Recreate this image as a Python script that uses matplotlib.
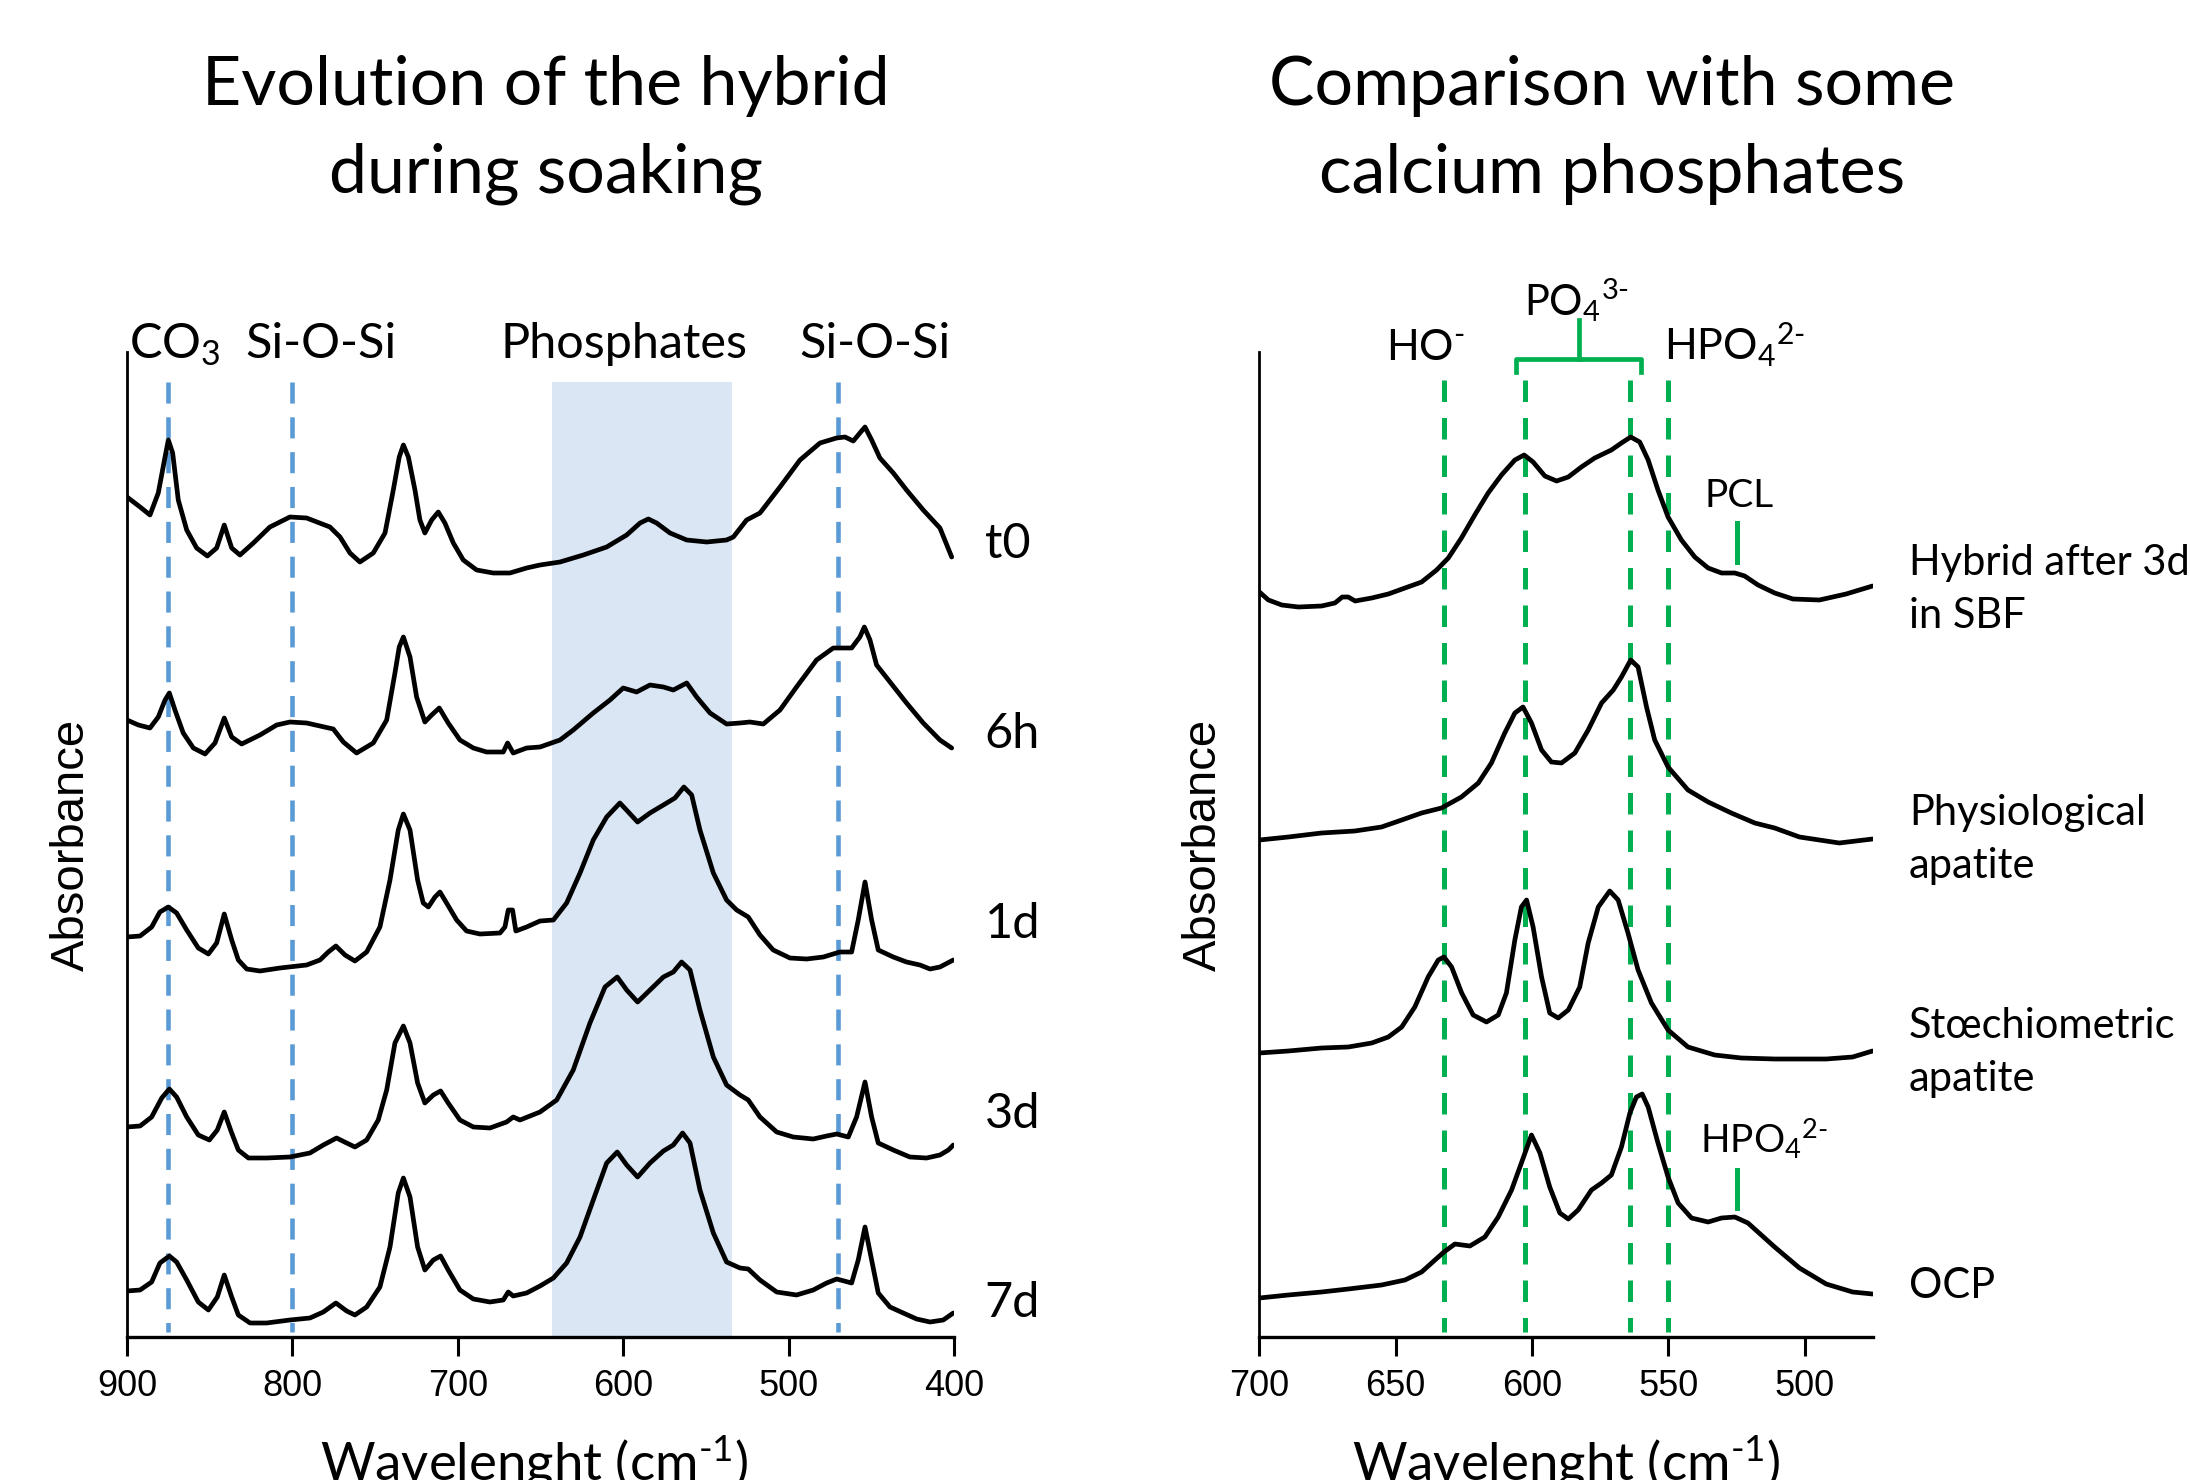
import numpy as np
import matplotlib
matplotlib.use('Agg')
from matplotlib import pyplot as plt

plt.rcParams['font.family'] = ['Lato', 'DejaVu Sans']
plt.rcParams['mathtext.fontset'] = 'custom'
plt.rcParams['mathtext.rm'] = 'Lato'
plt.rcParams['mathtext.it'] = 'Lato:italic'
plt.rcParams['mathtext.bf'] = 'Lato:bold'

# ---------------- left panel: hybrid during soaking ----------------
t0_w = [900, 892.1, 886.1, 881.1, 877.0, 875.0, 872.4, 869.0, 863.9, 857.9, 851.4, 845.8, 841.2, 836.7,
        831.7, 823.6, 813.6, 801.5, 791.4, 777.3, 771.2, 765.2, 759.2, 751.1, 744.0, 739.0, 735.4, 732.9,
        729.9, 725.9, 722.9, 719.9, 715.8, 711.8, 707.8, 702.7, 696.7, 688.6, 678.6, 668.5, 658.4, 650.3,
        638.2, 624.1, 610.0, 597.9, 589.8, 584.8, 579.8, 571.7, 561.6, 549.5, 537.5, 533.4, 525.4, 517.3,
        505.2, 493.1, 481.0, 471.0, 465.9, 460.9, 456.9, 453.8, 449.8, 444.8, 436.7, 428.7, 418.6, 408.5,
        401.4]
t0_a = [8.40, 8.30, 8.22, 8.44, 8.80, 8.97, 8.84, 8.37, 8.07, 7.89, 7.81, 7.89, 8.12, 7.89,
        7.82, 7.94, 8.10, 8.20, 8.19, 8.10, 8.00, 7.84, 7.75, 7.84, 8.04, 8.47, 8.80, 8.92,
        8.80, 8.47, 8.17, 8.04, 8.17, 8.25, 8.14, 7.94, 7.77, 7.67, 7.64, 7.64, 7.69, 7.72,
        7.75, 7.82, 7.90, 8.02, 8.14, 8.18, 8.14, 8.04, 7.97, 7.95, 7.97, 8.00, 8.17, 8.24,
        8.50, 8.77, 8.94, 8.99, 9.00, 8.96, 9.04, 9.10, 8.97, 8.79, 8.64, 8.47, 8.27, 8.09,
        7.80]

h6_w = [900, 893.1, 886.1, 881.1, 877.0, 874.4, 871.0, 866.0, 859.9, 852.8, 846.8, 841.2, 836.7, 830.7,
        819.6, 809.5, 801.5, 791.4, 775.3, 769.2, 761.2, 751.1, 743.0, 738.0, 735.4, 732.9, 728.9, 724.9,
        719.9, 715.8, 711.2, 705.8, 698.7, 690.6, 682.6, 672.5, 669.9, 666.5, 658.4, 650.3, 638.2, 630.2,
        618.1, 608.0, 600.0, 591.9, 583.8, 575.7, 569.7, 561.6, 555.6, 547.5, 537.5, 529.4, 523.4, 515.3,
        505.2, 495.2, 483.1, 473.0, 461.9, 456.9, 454.2, 450.8, 446.8, 438.7, 428.7, 418.6, 408.5, 401.4]
h6_a = [6.17, 6.12, 6.09, 6.20, 6.37, 6.44, 6.27, 6.04, 5.89, 5.83, 5.94, 6.19, 6.00, 5.93,
        6.02, 6.12, 6.15, 6.14, 6.08, 5.95, 5.84, 5.94, 6.17, 6.64, 6.90, 7.00, 6.80, 6.40,
        6.15, 6.22, 6.29, 6.14, 5.97, 5.89, 5.85, 5.85, 5.94, 5.84, 5.89, 5.90, 5.97, 6.07,
        6.24, 6.37, 6.49, 6.45, 6.52, 6.50, 6.47, 6.54, 6.40, 6.24, 6.13, 6.14, 6.15, 6.13,
        6.27, 6.50, 6.77, 6.89, 6.89, 7.00, 7.10, 6.97, 6.72, 6.55, 6.34, 6.14, 5.97, 5.89]

d1_w = [900, 892.1, 885.1, 880.1, 875.0, 870.0, 863.9, 856.9, 850.8, 845.8, 841.2, 836.7, 832.7, 827.6,
        819.6, 807.5, 791.4, 783.3, 778.3, 773.7, 768.2, 762.2, 755.1, 747.1, 741.0, 736.0, 732.9, 728.9,
        724.3, 720.9, 717.8, 713.8, 710.8, 706.8, 700.7, 694.7, 686.6, 674.5, 671.5, 669.5, 666.9, 664.9,
        658.4, 650.3, 642.2, 634.2, 626.1, 618.1, 610.0, 602.0, 596.9, 591.3, 583.8, 573.7, 568.7, 563.3,
        558.6, 553.6, 545.5, 537.5, 531.4, 524.4, 517.3, 509.3, 499.2, 489.1, 479.0, 469.0, 461.9, 457.9,
        453.8, 449.8, 445.8, 436.7, 428.7, 420.6, 414.5, 408.5, 400.4]
d1_a = [4.00, 4.01, 4.10, 4.25, 4.30, 4.24, 4.07, 3.89, 3.83, 3.94, 4.23, 3.97, 3.77, 3.68,
        3.66, 3.69, 3.72, 3.77, 3.85, 3.91, 3.82, 3.76, 3.85, 4.10, 4.57, 5.07, 5.23, 5.07,
        4.57, 4.34, 4.30, 4.40, 4.45, 4.34, 4.17, 4.06, 4.03, 4.04, 4.10, 4.27, 4.27, 4.06,
        4.10, 4.16, 4.17, 4.34, 4.64, 4.97, 5.20, 5.34, 5.25, 5.15, 5.24, 5.34, 5.39, 5.50,
        5.42, 5.07, 4.64, 4.37, 4.27, 4.20, 4.02, 3.87, 3.79, 3.78, 3.80, 3.85, 3.85, 4.17,
        4.55, 4.17, 3.87, 3.80, 3.75, 3.72, 3.68, 3.70, 3.77]

d3_w = [900, 892.1, 885.1, 879.0, 874.4, 870.0, 863.9, 856.9, 850.2, 845.4, 841.2, 836.7, 832.7, 826.6,
        815.6, 801.5, 789.4, 781.3, 773.3, 767.2, 762.2, 755.1, 748.1, 743.0, 738.0, 732.9, 728.9, 724.3,
        719.9, 714.8, 710.4, 705.8, 698.7, 690.6, 680.6, 670.5, 666.5, 662.4, 650.3, 640.2, 630.2, 620.1,
        611.0, 603.6, 597.9, 591.3, 583.8, 575.7, 569.7, 564.7, 559.6, 553.6, 545.5, 537.5, 529.4, 524.4,
        517.3, 507.2, 497.2, 485.1, 477.0, 470.9, 463.9, 458.9, 453.8, 449.8, 445.8, 436.7, 426.7, 416.6,
        408.5, 403.4, 400.4]
d3_a = [2.10, 2.11, 2.20, 2.39, 2.48, 2.40, 2.20, 2.02, 1.97, 2.07, 2.25, 2.04, 1.87, 1.79,
        1.79, 1.80, 1.84, 1.92, 1.99, 1.94, 1.90, 1.97, 2.17, 2.47, 2.94, 3.11, 2.94, 2.54,
        2.34, 2.42, 2.46, 2.34, 2.17, 2.10, 2.09, 2.15, 2.20, 2.17, 2.25, 2.37, 2.67, 3.14,
        3.50, 3.60, 3.47, 3.35, 3.47, 3.60, 3.65, 3.75, 3.67, 3.27, 2.80, 2.52, 2.42, 2.37,
        2.20, 2.05, 2.00, 1.98, 2.01, 2.03, 2.00, 2.20, 2.55, 2.20, 1.94, 1.87, 1.80, 1.79,
        1.82, 1.87, 1.92]

d7_w = [900, 892.1, 885.1, 880.1, 874.4, 870.0, 863.9, 856.9, 850.8, 845.4, 841.2, 836.7, 832.7, 825.6,
        815.6, 801.5, 789.4, 781.3, 773.7, 767.2, 762.2, 755.1, 747.1, 741.0, 736.0, 732.9, 728.9, 724.3,
        719.9, 714.8, 710.4, 705.8, 698.7, 690.6, 680.6, 672.5, 669.5, 666.5, 658.4, 650.3, 642.2, 634.2,
        626.1, 618.1, 610.0, 603.6, 597.9, 591.3, 583.8, 575.7, 569.7, 564.1, 559.6, 553.6, 545.5, 537.5,
        529.4, 524.4, 517.3, 507.2, 495.2, 485.1, 477.0, 470.9, 461.9, 457.9, 453.8, 449.8, 445.8, 438.7,
        430.7, 422.6, 414.5, 406.5, 400.4]
d7_a = [0.46, 0.47, 0.55, 0.74, 0.81, 0.75, 0.57, 0.35, 0.27, 0.40, 0.62, 0.40, 0.22, 0.14,
        0.14, 0.17, 0.19, 0.25, 0.34, 0.26, 0.22, 0.30, 0.50, 0.90, 1.44, 1.59, 1.40, 0.90,
        0.67, 0.77, 0.81, 0.67, 0.47, 0.38, 0.35, 0.37, 0.45, 0.41, 0.44, 0.51, 0.59, 0.74,
        1.00, 1.37, 1.74, 1.85, 1.72, 1.60, 1.74, 1.86, 1.92, 2.04, 1.94, 1.47, 1.04, 0.75,
        0.69, 0.68, 0.57, 0.45, 0.42, 0.47, 0.54, 0.58, 0.54, 0.77, 1.10, 0.77, 0.44, 0.30,
        0.24, 0.18, 0.15, 0.17, 0.24]

left_names = ['t0', '6h', '1d', '3d', '7d']
left_name_y = [7.79, 5.89, 3.99, 2.09, 0.20]
left_bands = [875, 800, 470]
phosphate_band = [643, 534]
left_top_labels = [r'CO$_3$', 'Si-O-Si', 'Phosphates', 'Si-O-Si']
left_top_x = [899, 782.7, 599.3, 447.8]

# ---------------- right panel: calcium phosphates ----------------
hyb_w = [700, 696.7, 691.8, 685.7, 677.2, 672.3, 669.6, 667.4, 664.9, 658.8, 652.7, 646.6, 640.5, 635.0,
         630.7, 625.9, 621.0, 616.1, 611.2, 606.3, 602.9, 599.6, 595.3, 591.0, 586.7, 581.9, 577.0, 570.9,
         567.2, 563.8, 560.5, 557.4, 553.8, 550.1, 545.2, 540.3, 535.4, 530.5, 525.6, 522.0, 517.1, 511.0,
         504.3, 494.6, 484.8, 475.1]
hyb_a = [7.45, 7.37, 7.32, 7.30, 7.31, 7.34, 7.40, 7.40, 7.36, 7.39, 7.43, 7.49, 7.55, 7.67,
         7.79, 7.99, 8.22, 8.44, 8.62, 8.77, 8.82, 8.75, 8.61, 8.56, 8.60, 8.70, 8.79, 8.87,
         8.94, 9.00, 8.95, 8.77, 8.47, 8.20, 7.97, 7.80, 7.69, 7.64, 7.64, 7.61, 7.52, 7.44,
         7.38, 7.37, 7.43, 7.51]

phy_w = [700, 689.4, 677.2, 665.0, 655.2, 647.8, 640.5, 633.2, 625.9, 619.7, 614.9, 610.0, 606.3, 603.3,
         600.2, 596.5, 592.9, 589.2, 584.3, 579.4, 574.5, 570.2, 567.2, 563.8, 561.1, 558.0, 555.0, 550.1,
         542.8, 535.4, 526.9, 518.3, 511.0, 501.9, 487.3, 475.1]
phy_a = [4.97, 5.00, 5.04, 5.06, 5.10, 5.17, 5.24, 5.29, 5.40, 5.54, 5.74, 6.04, 6.24, 6.30,
         6.14, 5.87, 5.75, 5.74, 5.84, 6.07, 6.34, 6.47, 6.60, 6.77, 6.70, 6.30, 5.97, 5.70,
         5.47, 5.35, 5.24, 5.14, 5.09, 5.00, 4.94, 4.98]

sto_w = [700, 689.4, 677.2, 667.4, 658.8, 652.7, 647.8, 643.0, 638.1, 634.4, 632.3, 629.5, 625.8, 621.6,
         616.7, 612.4, 609.4, 606.3, 603.9, 602.0, 599.6, 596.5, 593.5, 590.4, 586.7, 582.5, 579.4, 575.7,
         571.5, 568.4, 564.8, 561.1, 556.2, 550.1, 542.8, 533.0, 523.2, 511.0, 492.1, 482.4, 475.1]
sto_a = [2.84, 2.86, 2.89, 2.90, 2.94, 3.00, 3.10, 3.30, 3.60, 3.77, 3.80, 3.70, 3.44, 3.22,
         3.15, 3.22, 3.44, 3.97, 4.30, 4.37, 4.10, 3.60, 3.24, 3.19, 3.27, 3.50, 3.94, 4.30,
         4.46, 4.37, 4.04, 3.67, 3.34, 3.07, 2.90, 2.82, 2.79, 2.78, 2.78, 2.80, 2.86]

ocp_w = [700, 689.4, 677.2, 667.4, 655.2, 646.6, 640.5, 635.6, 632.3, 628.3, 622.8, 617.3, 612.4, 607.5,
         603.9, 600.2, 597.1, 593.5, 589.8, 586.7, 583.1, 578.2, 574.5, 570.9, 567.2, 564.1, 561.7, 559.6,
         557.4, 553.8, 550.1, 546.4, 541.5, 535.4, 530.5, 525.6, 520.8, 515.9, 511.0, 501.9, 492.1, 482.4,
         475.1]
ocp_a = [0.39, 0.42, 0.45, 0.48, 0.52, 0.57, 0.65, 0.77, 0.85, 0.93, 0.91, 1.00, 1.20, 1.47,
         1.74, 2.02, 1.84, 1.50, 1.24, 1.18, 1.27, 1.47, 1.54, 1.62, 1.90, 2.24, 2.40, 2.43,
         2.30, 1.94, 1.60, 1.34, 1.19, 1.15, 1.19, 1.20, 1.14, 1.02, 0.90, 0.69, 0.53, 0.45,
         0.43]

right_names = ['Hybrid after 3d\nin SBF', 'Physiological\napatite', 'Stœchiometric\napatite', 'OCP']
right_name_y = [7.09, 4.59, 2.46, 0.39]
right_bands = [632.4, 602.7, 563.9, 550]

BLUE = '#5b9bd5'
GREEN = '#00b050'
SHADE = '#dae6f3'
YTOP = 9.85
LW = 3.4

fig = plt.figure(figsize=(21.9, 14.8), dpi=100)
axL = fig.add_axes([127 / 2190, 143 / 1480, 827 / 2190, 985 / 1480])
axR = fig.add_axes([1259.4 / 2190, 143 / 1480, 613.4 / 2190, 985 / 1480])

for ax in (axL, axR):
    ax.spines['top'].set_visible(False)
    ax.spines['right'].set_visible(False)
    ax.spines['left'].set_linewidth(2.0)
    ax.spines['bottom'].set_linewidth(2.4)
    ax.set_yticks([])
    ax.set_ylim(0, YTOP)
    ax.tick_params(axis='x', direction='out', length=14, width=2.2, labelsize=26, pad=9,
                   labelfontfamily='Liberation Sans')
    ax.set_ylabel('Absorbance', fontsize=34, family='Liberation Sans', labelpad=24)

# left panel
axL.set_xlim(900, 400)
axL.set_xticks([900, 800, 700, 600, 500, 400])
axL.axvspan(phosphate_band[0], phosphate_band[1], ymin=0, ymax=9.55 / YTOP, color=SHADE, lw=0, zorder=0)
for b in left_bands:
    axL.plot([b, b], [9.55, 0.05], color=BLUE, lw=3.3, linestyle=(0, (4.6, 3.0)), zorder=1)
for w, a in [(t0_w, t0_a), (h6_w, h6_a), (d1_w, d1_a), (d3_w, d3_a), (d7_w, d7_a)]:
    axL.plot(w, a, color='black', lw=LW, solid_joinstyle='round', solid_capstyle='round', zorder=3)
for name, y in zip(left_names, left_name_y):
    axL.text(381.5, y, name, fontsize=35, ha='left', va='baseline', clip_on=False)
for s, x in zip(left_top_labels, left_top_x):
    axL.text(x, 9.79, s, fontsize=35, ha='left' if s.startswith('CO') else 'center',
             va='baseline', clip_on=False)

# right panel
axR.set_xlim(700, 475)
axR.set_xticks([700, 650, 600, 550, 500])
for b in right_bands:
    axR.plot([b, b], [9.57, 0.05], color=GREEN, lw=3.6, linestyle=(0, (4.3, 3.2)), zorder=1)
for w, a in [(hyb_w, hyb_a), (phy_w, phy_a), (sto_w, sto_a), (ocp_w, ocp_a)]:
    axR.plot(w, a, color='black', lw=LW, solid_joinstyle='round', solid_capstyle='round', zorder=3)
# bracket over the PO4 bands
axR.plot([605.7, 605.7, 560.2, 560.2], [9.65, 9.78, 9.78, 9.65], color=GREEN, lw=3.4,
         solid_joinstyle='round', clip_on=False)
axR.plot([582.6, 582.6], [9.78, 10.17], color=GREEN, lw=3.4, clip_on=False)
axR.plot([524.8, 524.8], [7.75, 8.14], color=GREEN, lw=3.6)
axR.plot([524.8, 524.8], [1.29, 1.67], color=GREEN, lw=3.6)

axR.text(639, 9.77, r'HO$^{\text{-}}$', fontsize=31, ha='center', va='baseline', clip_on=False)
axR.text(603.0, 10.22, r'PO$_4$$^{\text{3-}}$', fontsize=30, ha='left', va='baseline', clip_on=False)
axR.text(551.7, 9.77, r'HPO$_4$$^{\text{2-}}$', fontsize=31, ha='left', va='baseline', clip_on=False)
axR.text(524.2, 8.30, 'PCL', fontsize=28, ha='center', va='baseline')
axR.text(538.5, 1.84, r'HPO$_4$$^{\text{2-}}$', fontsize=28, ha='left', va='baseline')
for name, y in zip(right_names, right_name_y):
    axR.text(461.8, y, name, fontsize=30, ha='left', va='baseline', linespacing=1.5, clip_on=False)

# titles
fig.text(546 / 2190, 1 - 104.8 / 1480, 'Evolution of the hybrid', fontsize=49, ha='center', va='baseline')
fig.text(546 / 2190, 1 - 192.7 / 1480, 'during soaking', fontsize=49, ha='center', va='baseline')
fig.text(1612 / 2190, 1 - 104.8 / 1480, 'Comparison with some', fontsize=49, ha='center', va='baseline')
fig.text(1612 / 2190, 1 - 192.7 / 1480, 'calcium phosphates', fontsize=49, ha='center', va='baseline')

# x labels (cut by the bottom edge as in the source)
fig.text(534 / 2190, 0.0, r'Wavelenght (cm$^{\text{-1}}$)', fontsize=38, ha='center', va='baseline')
fig.text(1566 / 2190, 0.0, r'Wavelenght (cm$^{\text{-1}}$)', fontsize=38, ha='center', va='baseline')

fig.savefig('out.png', dpi=100)
